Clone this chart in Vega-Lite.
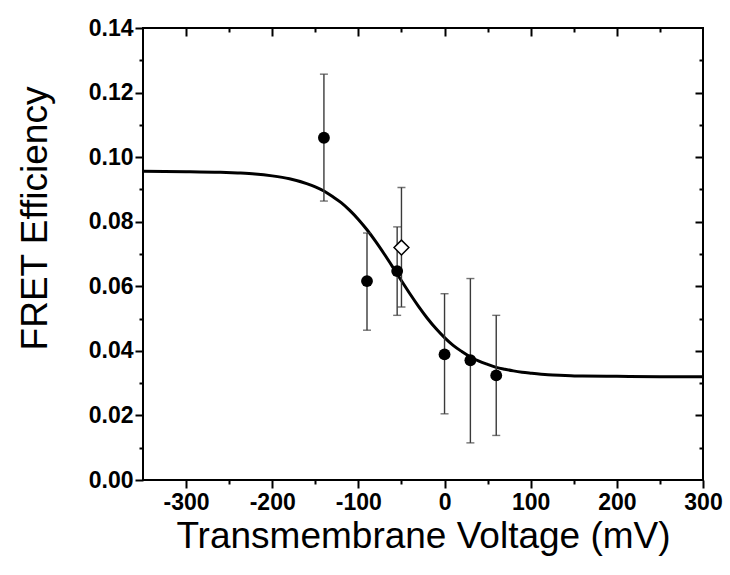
{
  "$schema": "https://vega.github.io/schema/vega-lite/v6.json",
  "width": 560,
  "height": 452,
  "autosize": {"type": "none"},
  "padding": {"left": 143, "top": 28, "right": 27, "bottom": 95},
  "background": "white",
  "config": {
    "view": {"stroke": "black", "strokeWidth": 2},
    "axis": {
      "grid": false,
      "domain": false,
      "tickColor": "black",
      "tickWidth": 2,
      "labelColor": "black",
      "labelFont": "Liberation Sans",
      "labelFontSize": 23,
      "labelFontWeight": "bold",
      "labelFlush": false,
      "labelOverlap": false,
      "titleColor": "black",
      "titleFont": "Liberation Sans",
      "titleFontSize": 37,
      "titleFontWeight": "normal"
    }
  },
  "datasets": {
    "curve": [
      {"v": -350, "e": 0.0956}, {"v": -300, "e": 0.0955}, {"v": -260, "e": 0.0953},
      {"v": -240, "e": 0.0951}, {"v": -220, "e": 0.0948}, {"v": -200, "e": 0.0942},
      {"v": -180, "e": 0.0933}, {"v": -160, "e": 0.0918}, {"v": -150, "e": 0.0908},
      {"v": -140, "e": 0.0895}, {"v": -130, "e": 0.0878}, {"v": -120, "e": 0.0859},
      {"v": -110, "e": 0.0835}, {"v": -100, "e": 0.0807}, {"v": -90, "e": 0.0775},
      {"v": -80, "e": 0.0739}, {"v": -70, "e": 0.0700}, {"v": -60, "e": 0.0659},
      {"v": -50, "e": 0.0617}, {"v": -40, "e": 0.0576}, {"v": -30, "e": 0.0537},
      {"v": -20, "e": 0.0501}, {"v": -10, "e": 0.0469}, {"v": 0, "e": 0.0441},
      {"v": 10, "e": 0.0417}, {"v": 20, "e": 0.0398}, {"v": 30, "e": 0.0381},
      {"v": 40, "e": 0.0368}, {"v": 50, "e": 0.0358}, {"v": 60, "e": 0.0349},
      {"v": 70, "e": 0.0343}, {"v": 80, "e": 0.0338}, {"v": 90, "e": 0.0334},
      {"v": 100, "e": 0.0331}, {"v": 120, "e": 0.0326}, {"v": 140, "e": 0.0324},
      {"v": 160, "e": 0.0322}, {"v": 200, "e": 0.0321}, {"v": 250, "e": 0.0320},
      {"v": 300, "e": 0.0320}
    ],
    "pts": [
      {"v": -140, "e": 0.1060, "lo": 0.0864, "hi": 0.1257, "kind": "filled"},
      {"v": -90, "e": 0.0616, "lo": 0.0464, "hi": 0.0765, "kind": "filled"},
      {"v": -55, "e": 0.0647, "lo": 0.0510, "hi": 0.0784, "kind": "filled"},
      {"v": -50, "e": 0.0720, "lo": 0.0536, "hi": 0.0906, "kind": "open"},
      {"v": 0, "e": 0.0389, "lo": 0.0205, "hi": 0.0577, "kind": "filled"},
      {"v": 30, "e": 0.0371, "lo": 0.0115, "hi": 0.0624, "kind": "filled"},
      {"v": 60, "e": 0.0324, "lo": 0.0138, "hi": 0.0510, "kind": "filled"}
    ]
  },
  "layer": [
    {
      "data": {"name": "curve"},
      "mark": {"type": "line", "color": "black", "strokeWidth": 3, "interpolate": "monotone"},
      "encoding": {
        "x": {
          "field": "v", "type": "quantitative",
          "scale": {"domain": [-350, 300], "nice": false, "zero": false},
          "axis": {
            "orient": "bottom",
            "title": "Transmembrane Voltage (mV)",
            "values": [-300, -250, -200, -150, -100, -50, 0, 50, 100, 150, 200, 250, 300],
            "labelExpr": "datum.value % 100 == 0 ? '' + datum.value : ''",
            "tickSize": {"condition": {"test": "datum.value % 100 == 0", "value": 8}, "value": 4},
            "labelPadding": 3,
            "titlePadding": 4
          }
        },
        "y": {
          "field": "e", "type": "quantitative",
          "scale": {"domain": [0, 0.14], "nice": false},
          "axis": {
            "orient": "left",
            "title": "FRET Efficiency",
            "values": [0, 0.01, 0.02, 0.03, 0.04, 0.05, 0.06, 0.07, 0.08, 0.09, 0.10, 0.11, 0.12, 0.13, 0.14],
            "format": ".2f",
            "labelExpr": "round(datum.value * 100) % 2 == 0 ? datum.label : ''",
            "tickSize": {"condition": {"test": "round(datum.value * 100) % 2 == 0", "value": 8}, "value": 4},
            "labelPadding": 2,
            "titlePadding": 34,
            "titleY": 190
          }
        }
      }
    },
    {
      "data": {"name": "pts"},
      "mark": {"type": "rule", "color": "#3a3a3a", "strokeWidth": 1.4},
      "encoding": {
        "x": {"field": "v", "type": "quantitative", "axis": null},
        "y": {"field": "lo", "type": "quantitative", "axis": null},
        "y2": {"field": "hi"}
      }
    },
    {
      "data": {"name": "pts"},
      "mark": {"type": "tick", "orient": "horizontal", "color": "#3a3a3a", "size": 8, "thickness": 1.4},
      "encoding": {
        "x": {"field": "v", "type": "quantitative", "axis": null},
        "y": {"field": "lo", "type": "quantitative", "axis": null}
      }
    },
    {
      "data": {"name": "pts"},
      "mark": {"type": "tick", "orient": "horizontal", "color": "#3a3a3a", "size": 8, "thickness": 1.4},
      "encoding": {
        "x": {"field": "v", "type": "quantitative", "axis": null},
        "y": {"field": "hi", "type": "quantitative", "axis": null}
      }
    },
    {
      "data": {"name": "pts"},
      "transform": [{"filter": "datum.kind == 'filled'"}],
      "mark": {"type": "point", "shape": "circle", "filled": true, "color": "black", "size": 140, "opacity": 1},
      "encoding": {
        "x": {"field": "v", "type": "quantitative", "axis": null},
        "y": {"field": "e", "type": "quantitative", "axis": null}
      }
    },
    {
      "data": {"name": "pts"},
      "transform": [{"filter": "datum.kind == 'open'"}],
      "mark": {"type": "point", "shape": "diamond", "filled": true, "fill": "white", "stroke": "black", "strokeWidth": 1.5, "size": 220, "opacity": 1},
      "encoding": {
        "x": {"field": "v", "type": "quantitative", "axis": null},
        "y": {"field": "e", "type": "quantitative", "axis": null}
      }
    },
    {
      "data": {"name": "curve"},
      "mark": {"type": "point", "opacity": 0},
      "encoding": {
        "x": {
          "field": "v", "type": "quantitative",
          "axis": {
            "orient": "top", "title": null, "labels": false,
            "values": [-300, -250, -200, -150, -100, -50, 0, 50, 100, 150, 200, 250],
            "tickSize": {"condition": {"test": "datum.value % 100 == 0", "value": -8}, "value": -4}
          }
        },
        "y": {
          "field": "e", "type": "quantitative",
          "axis": {
            "orient": "right", "title": null, "labels": false,
            "values": [0.01, 0.02, 0.03, 0.04, 0.05, 0.06, 0.07, 0.08, 0.09, 0.10, 0.11, 0.12, 0.13],
            "tickSize": {"condition": {"test": "round(datum.value * 100) % 2 == 0", "value": -8}, "value": -4}
          }
        }
      }
    }
  ],
  "resolve": {"axis": {"x": "independent", "y": "independent"}}
}
